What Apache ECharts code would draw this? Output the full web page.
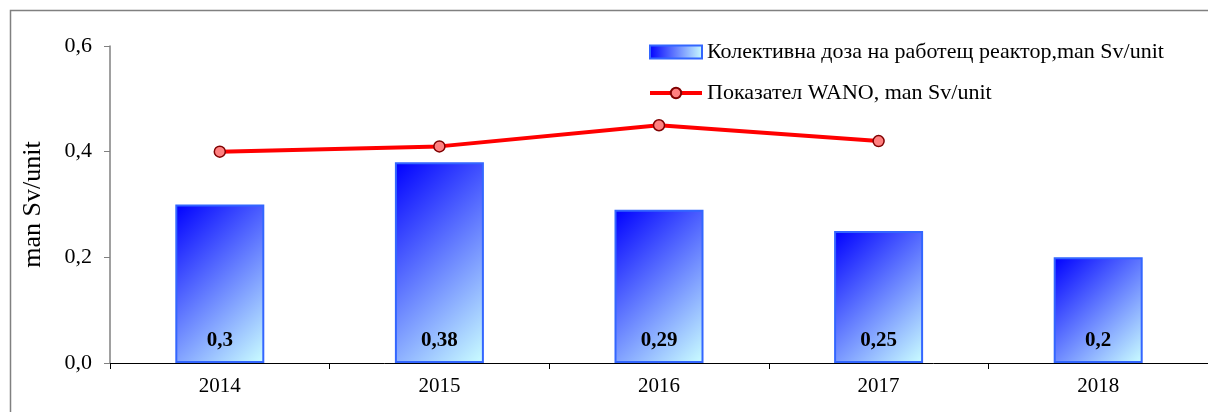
<!DOCTYPE html>
<html><head><meta charset="utf-8">
<script src="https://cdn.jsdelivr.net/npm/echarts@6/dist/echarts.min.js"></script>
<style>html,body{margin:0;padding:0;background:#fff}#c{width:1208px;height:412px}</style>
</head><body><div id="c"></div>
<script>
const categories = ['2014','2015','2016','2017','2018'];
const doseValues = [0.3, 0.38, 0.29, 0.25, 0.2];
const wanoValues = [0.40, 0.41, 0.45, 0.42, null];
const barName = 'Колективна доза на работещ реактор,man Sv/unit';
const lineName = 'Показател WANO, man Sv/unit';
const font = 'Liberation Serif, Times New Roman, serif';
const fmt = v => String(v).replace('.', ',');

const GRID_H = 317, BAR_W = 89, Y_MAX = 0.6;
function diagGrad(v){
  const H = v / Y_MAX * GRID_H, W = BAR_W;
  return new echarts.graphic.LinearGradient(0,0,(W+H)/(2*W),(W+H)/(2*H),
    [{offset:0,color:'#0000ff'},{offset:1,color:'#ccffff'}]);
}
const legendGrad = new echarts.graphic.LinearGradient(0,0,1,0,[{offset:0,color:'#0000ff'},{offset:1,color:'#ccffff'}]);

const chart = echarts.init(document.getElementById('c'), null, {renderer:'canvas'});
chart.setOption({
  animation:false,
  graphic:[{type:'rect',shape:{x:10.5,y:10.5,width:1300,height:600},style:{fill:'none',stroke:'#808080',lineWidth:1.5},z:-1}],
  grid:{left:110,top:46,width:1105,height:GRID_H},
  legend:{
    orient:'vertical', left:643, top:36, itemGap:19, itemWidth:52, itemHeight:13,
    textStyle:{fontFamily:font,fontSize:22,color:'#000'},
    data:[{name:barName,icon:'rect',itemStyle:{color:legendGrad,borderColor:'#3366ff',borderWidth:2}},
          {name:lineName,lineStyle:{width:4,color:'#ff0000'}}]
  },
  xAxis:{type:'category',data:categories,
    axisLine:{lineStyle:{color:'#000',width:1}},
    axisTick:{show:true,length:6,lineStyle:{color:'#000'}},
    axisLabel:{fontFamily:font,fontSize:21,color:'#000',margin:13}},
  yAxis:{type:'value',min:0,max:Y_MAX,interval:0.2,
    name:'man Sv/unit',nameLocation:'middle',nameGap:64,nameRotate:90,
    nameTextStyle:{fontFamily:font,fontSize:26,color:'#000'},
    axisLine:{show:true,lineStyle:{color:'#808080',width:1.5}},
    axisTick:{show:true,length:6,lineStyle:{color:'#808080'}},
    splitLine:{show:false},
    axisLabel:{fontFamily:font,fontSize:22,color:'#000',margin:18,
      formatter:v=>v.toFixed(1).replace('.',',')}},
  series:[
    {name:barName,type:'bar',barWidth:BAR_W,
     data:doseValues.map(v=>({value:v,itemStyle:{color:diagGrad(v)}})),
     itemStyle:{color:'#3366ff',borderColor:'#3366ff',borderWidth:2},
     label:{show:true,position:'insideBottom',distance:12,fontFamily:font,fontSize:21,fontWeight:'bold',color:'#000',
       formatter:p=>fmt(p.value)}},
    {name:lineName,type:'line',data:wanoValues,symbol:'circle',symbolSize:11,
     lineStyle:{color:'#ff0000',width:4},
     itemStyle:{color:'#ff8080',borderColor:'#800000',borderWidth:1.5},z:5}
  ]
});
</script></body></html>
